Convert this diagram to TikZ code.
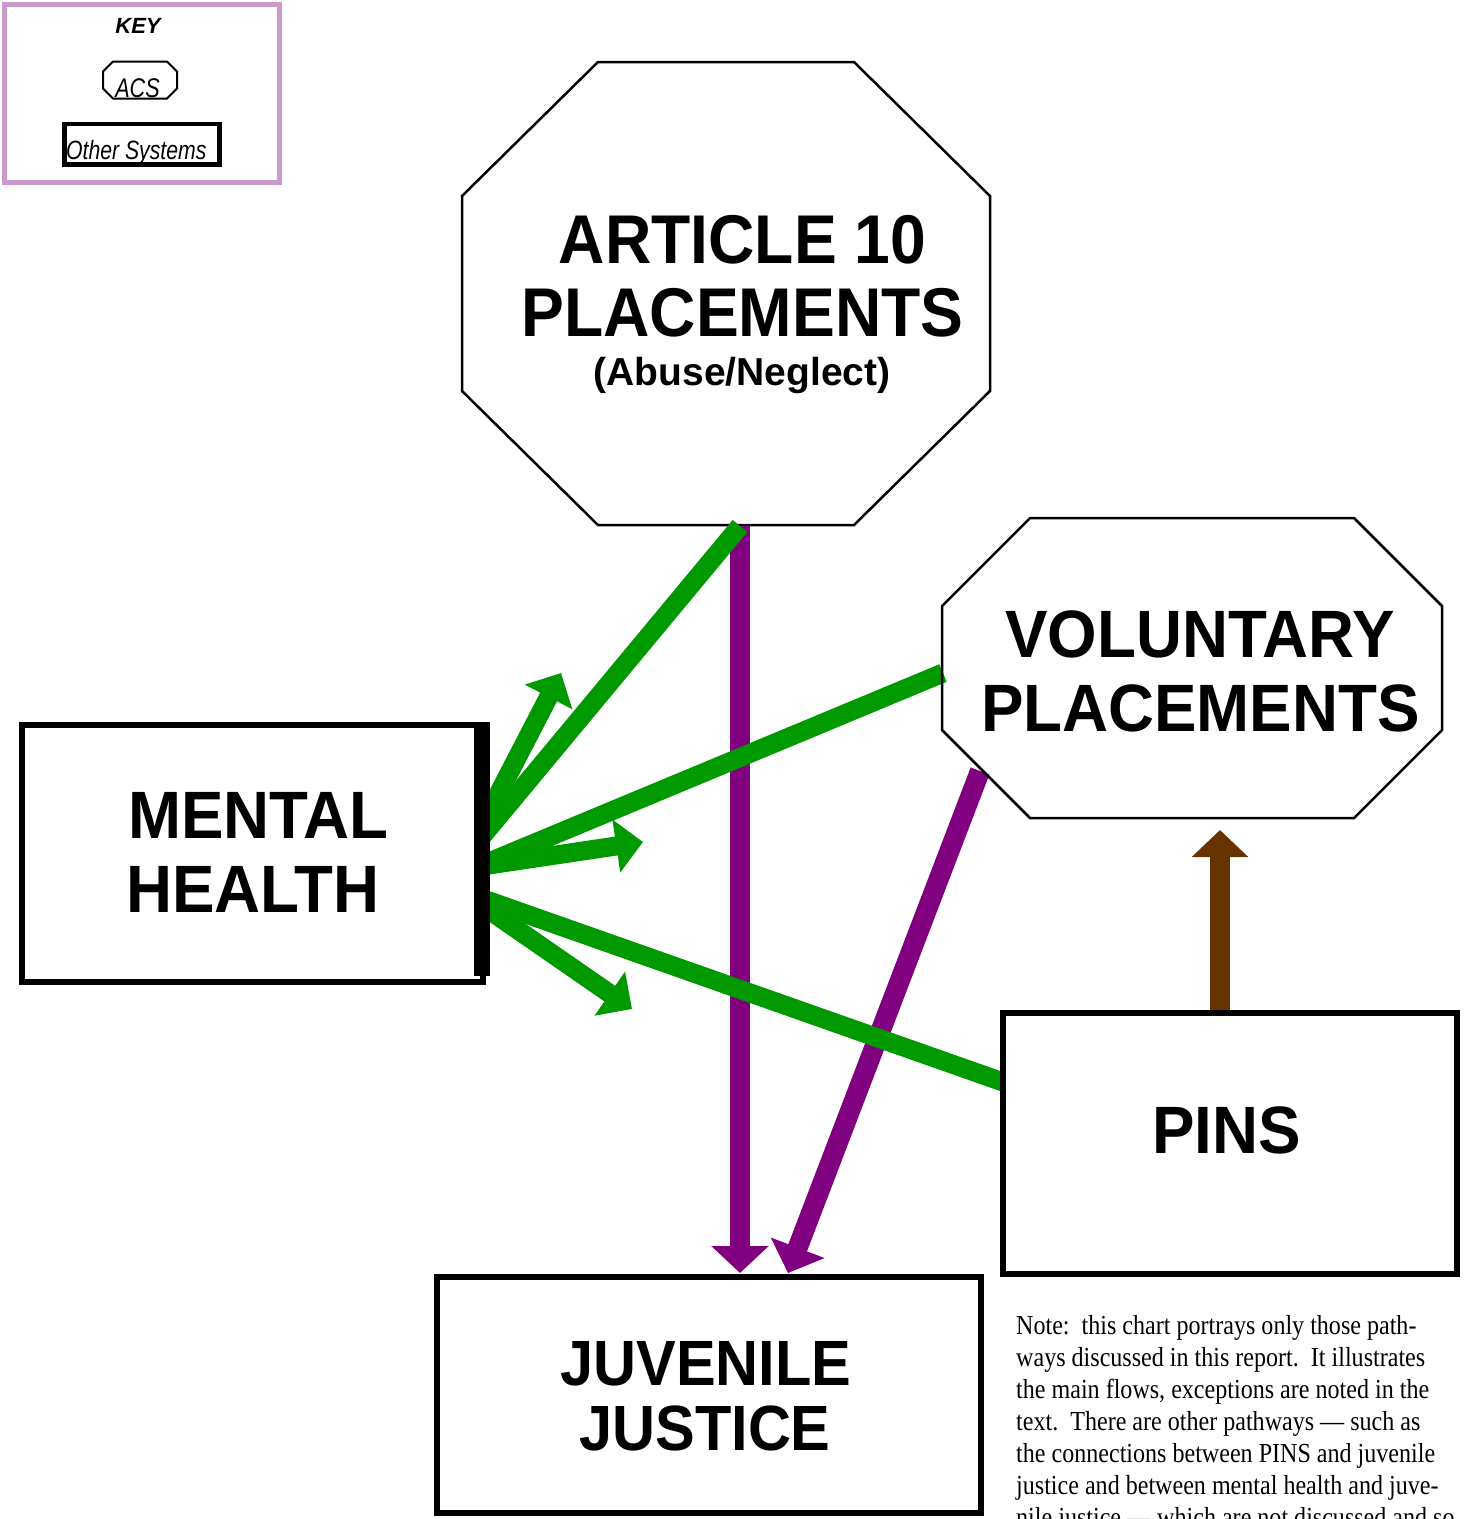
\documentclass[tikz,border=0pt]{standalone}
\usepackage{fontspec}
\setmainfont[FakeStretch=0.875]{Liberation Serif}
\newfontfamily\labelfont[FakeStretch=0.95]{Liberation Sans}
\newfontfamily\tightlabelfont[FakeStretch=0.93]{Liberation Sans}
\newfontfamily\narrowfont[FakeStretch=0.8]{Liberation Sans}
\newfontfamily\plainsans{Liberation Sans}
\usetikzlibrary{arrows.meta,calc}

\definecolor{flowgreen}{HTML}{009900}
\definecolor{flowpurple}{HTML}{800080}
\definecolor{flowbrown}{HTML}{663300}
\definecolor{keypink}{HTML}{CC99CC}

\pgfdeclarelayer{front}
\pgfsetlayers{main,front}

% Octagon outline cut from the corners of a rectangular node:
% #1 draw options, #2 node name, #3 horizontal cut, #4 vertical cut
\newcommand{\drawoctagon}[4][]{%
  \draw[#1] ($(#2.north west)+(#3,0)$) -- ($(#2.north east)+(-#3,0)$)
    -- ($(#2.north east)+(0,#4)$) -- ($(#2.south east)+(0,-#4)$)
    -- ($(#2.south east)+(-#3,0)$) -- ($(#2.south west)+(#3,0)$)
    -- ($(#2.south west)+(0,-#4)$) -- ($(#2.north west)+(0,#4)$) -- cycle;}

\tikzset{
  sysbox/.style={draw, rectangle, line width=6pt, inner sep=0pt, outer sep=0pt},
  octframe/.style={rectangle, inner sep=0pt, outer sep=0pt},
  octline/.style={line width=2.5pt, line join=miter},
  greenflow/.style={draw=flowgreen, line width=19pt},
  greenarrow/.style={greenflow, -{Triangle[length=27pt,width=52pt]}},
  purpleflow/.style={draw=flowpurple, line width=20pt, -{Triangle[length=27pt,width=56pt]}},
  brownflow/.style={draw=flowbrown, line width=20pt, -{Triangle[length=27pt,width=55pt]}},
  bigtext/.style={inner sep=0pt, anchor=base, font=\labelfont\bfseries\fontsize{67}{74}\selectfont},
  notetext/.style={inner sep=0pt, anchor=base west, font=\frenchspacing\fontsize{27.5}{32}\selectfont},
  keytext/.style={inner sep=0pt, anchor=base},
}

\begin{document}
\begin{tikzpicture}[x=1pt,y=-1pt]
\useasboundingbox (0,0) rectangle (1469,1519);
\fill[white] (0,0) rectangle (1469,1519);
\clip (0,0) rectangle (1469,1519);

% ---- key ----
\node[draw=keypink, line width=4.5pt, rectangle, inner sep=0pt, outer sep=0pt,
      minimum width=275pt, minimum height=178pt] (key) at (142,93.5) {};
\node[keytext, font=\plainsans\bfseries\itshape\fontsize{22}{26}\selectfont] (keytitle) at (138,33) {KEY};
\node[octframe, minimum width=74pt, minimum height=37pt] (keyacs) at (140,80) {};
\drawoctagon[line width=2pt]{keyacs}{10}{10}
\node[keytext, font=\narrowfont\itshape\fontsize{27}{30}\selectfont] (keyacstext) at (137.5,97) {ACS};
\node[sysbox, line width=4.5pt, minimum width=155.4pt, minimum height=40.5pt] (keysys) at (142,144.25) {};
\node[keytext, anchor=base west, font=\narrowfont\itshape\fontsize{26.5}{30}\selectfont] (keysystext) at (66,159) {Other Systems};

% ---- Article 10 octagon ----
\node[octframe, minimum width=528pt, minimum height=463pt] (art) at (726,293.5) {};
\drawoctagon[octline]{art}{136}{134}
\node[bigtext, font=\tightlabelfont\bfseries\fontsize{69}{74}\selectfont] (art1) at (742.5,263) {ARTICLE 10};
\node[bigtext, font=\tightlabelfont\bfseries\fontsize{69}{74}\selectfont] (art2) at (742.5,336) {PLACEMENTS};
\node[bigtext, font=\plainsans\bfseries\fontsize{39}{44}\selectfont] (art3) at (742,385) {(Abuse/Neglect)};

% ---- boxes drawn above the connectors ----
\begin{pgfonlayer}{front}
  \node[octframe, minimum width=500pt, minimum height=300pt] (vol) at (1192,668) {};
  \drawoctagon[octline]{vol}{88}{88}
  \node[bigtext] (vol1) at (1200,657) {VOLUNTARY};
  \node[bigtext] (vol2) at (1200.5,731) {PLACEMENTS};

  \node[sysbox, line width=5.5pt, minimum width=461pt, minimum height=257pt] (mh) at (252.5,853.5) {};
  \fill (474,722) rectangle (490,976);
  \node[bigtext, anchor=base west] (mh1) at (128,838) {MENTAL};
  \node[bigtext, anchor=base west] (mh2) at (126,912) {HEALTH};

  \node[sysbox, minimum width=454pt, minimum height=261pt] (pins) at (1230,1143.5) {};
  \node[bigtext] (pins1) at (1226.5,1153) {PINS};

  \node[sysbox, minimum width=544pt, minimum height=236pt] (jj) at (709,1395) {};
  \node[bigtext, font=\tightlabelfont\bfseries\fontsize{64}{70}\selectfont] (jj1) at (706,1385) {JUVENILE};
  \node[bigtext, font=\tightlabelfont\bfseries\fontsize{64}{70}\selectfont] (jj2) at (705,1450) {JUSTICE};
\end{pgfonlayer}

% ---- connector end points ----
\coordinate (artout) at ($(art.south)+(14,1)$);
\coordinate (volout) at ($(vol.west)+(1,5)$);
\coordinate (voldown) at ($(vol.center)+(-212,103)$);
\coordinate (pinsout) at ($(pins.west)+(0,-61.5)$);
\coordinate (pinsup) at ($(pins.north)+(-10,2)$);
\coordinate (volin) at ($(vol.south)+(28,12)$);
\coordinate (jjin) at ($(jj.north)+(31,-4)$);
\coordinate (jjin2) at ($(jj.north)+(79,-4)$);
\coordinate (mhL1) at ($(mh.east)+(-1,-17.1)$);
\coordinate (mhA1) at ($(mh.east)+(-1,-28)$);
\coordinate (mhL2) at ($(mh.east)+(-1,11.4)$);
\coordinate (mhA2) at ($(mh.east)+(-1,12.5)$);
\coordinate (mhL3) at ($(mh.east)+(-1,45)$);
\coordinate (mhA3) at ($(mh.east)+(-1,51.7)$);
\coordinate (tipA1) at (561,673);
\coordinate (tipA2) at (643,842);
\coordinate (tipA3) at (632,1009);

% ---- purple flows into juvenile justice ----
\draw[purpleflow] (artout) -- (jjin);
\draw[purpleflow] (voldown) -- (jjin2);

% ---- green flows with mental health ----
\draw[greenflow] (artout) -- (mhL1);
\draw[greenarrow] (mhA1) -- (tipA1);
\draw[greenflow] (volout) -- (mhL2);
\draw[greenarrow] (mhA2) -- (tipA2);
\draw[greenflow] (pinsout) -- (mhL3);
\draw[greenarrow] (mhA3) -- (tipA3);

% ---- PINS to voluntary placements ----
\draw[brownflow] (pinsup) -- (volin);

% ---- note ----
\node[notetext] (note1) at (1016,1334) {Note:\ \ this chart portrays only those path-};
\node[notetext] (note2) at (1016,1366) {ways discussed in this report.\ \ It illustrates};
\node[notetext] (note3) at (1016,1398) {the main flows, exceptions are noted in the};
\node[notetext] (note4) at (1016,1430) {text.\ \ There are other pathways — such as};
\node[notetext] (note5) at (1016,1462) {the connections between PINS and juvenile};
\node[notetext] (note6) at (1016,1494) {justice and between mental health and juve-};
\node[notetext] (note7) at (1016,1526) {nile justice — which are not discussed and so};
\end{tikzpicture}
\end{document}
